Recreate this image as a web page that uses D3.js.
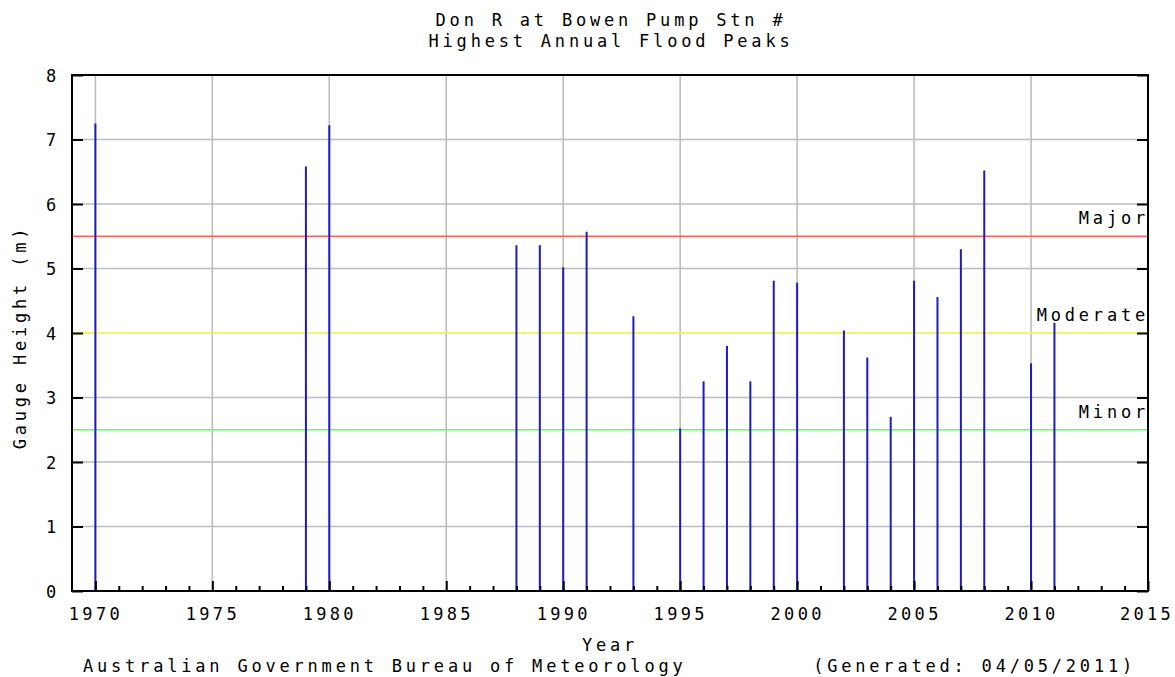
<!DOCTYPE html>
<html><head><meta charset="utf-8">
<script src="https://cdn.jsdelivr.net/npm/d3@7"></script>
<style>
body{margin:0;background:#fff;}
text{font-family:"DejaVu Sans Mono",monospace;font-size:17px;letter-spacing:3.8px;fill:#000;}
</style></head>
<body><svg id="c" width="1175" height="677"></svg>
<script>
const years = [1970,1979,1980,1988,1989,1990,1991,1993,1995,1996,1997,1998,1999,2000,2002,2003,2004,2005,2006,2007,2008,2010,2011];
const peaks = [7.25,6.58,7.22,5.36,5.36,5.02,5.57,4.26,2.52,3.25,3.80,3.25,4.81,4.78,4.04,3.62,2.70,4.81,4.56,5.30,6.52,3.53,4.16];
const levelNames = ["Major","Moderate","Minor"];
const levelValues = [5.5,4.0,2.5];
const levelColors = ["#ff6060","#ffff50","#60ff60"];
const xTickLabels = [1970,1975,1980,1985,1990,1995,2000,2005,2010,2015];
const yTickLabels = [0,1,2,3,4,5,6,7,8];
const titleLines = ["Don R at Bowen Pump Stn #","Highest Annual Flood Peaks"];

const svg = d3.select("#c");
const L=72,R=1148,T=75,B=591;
const x = d3.scaleLinear().domain([1969,2015]).range([L,R]);
const y = d3.scaleLinear().domain([0,8]).range([B,T]);

// grid
svg.append("g").selectAll("line").data(xTickLabels).join("line")
  .attr("x1",d=>x(d)).attr("x2",d=>x(d)).attr("y1",T).attr("y2",B)
  .attr("stroke","#bdbdbd").attr("stroke-width",1.6);
svg.append("g").selectAll("line").data(yTickLabels).join("line")
  .attr("x1",L).attr("x2",R).attr("y1",d=>y(d)).attr("y2",d=>y(d))
  .attr("stroke","#bdbdbd").attr("stroke-width",1.6);

// levels
svg.append("g").selectAll("line").data(levelValues).join("line")
  .attr("x1",L).attr("x2",R).attr("y1",d=>y(d)).attr("y2",d=>y(d))
  .attr("stroke",(d,i)=>levelColors[i]).attr("stroke-width",1.6);
svg.append("g").selectAll("text").data(levelValues).join("text")
  .attr("x",R+1).attr("y",d=>y(d)-12).attr("text-anchor","end")
  .text((d,i)=>levelNames[i]);

// bars
svg.append("g").selectAll("line").data(years).join("line")
  .attr("x1",d=>x(d)).attr("x2",d=>x(d)).attr("y1",y(0)).attr("y2",(d,i)=>y(peaks[i]))
  .attr("stroke","#1c1cc0").attr("stroke-width",2);

// frame
svg.append("rect").attr("x",L).attr("y",T).attr("width",R-L).attr("height",B-T)
  .attr("fill","none").attr("stroke","#000").attr("stroke-width",2);

// axes
const minorYears = d3.range(1970,2015).filter(v=>v%5!==0);
const gx = svg.append("g").attr("transform",`translate(0,${B})`);
gx.call(d3.axisBottom(x).tickValues(minorYears).tickSize(-5).tickFormat(""));
const gx2 = svg.append("g").attr("transform",`translate(0,${B})`);
gx2.call(d3.axisBottom(x).tickValues(xTickLabels).tickSize(-10).tickPadding(17).tickFormat(d3.format("d")));
const gyL = svg.append("g").attr("transform",`translate(${L},0)`);
gyL.call(d3.axisLeft(y).tickValues(yTickLabels).tickSize(-11).tickPadding(12).tickFormat(d3.format("d")));
const gyR = svg.append("g").attr("transform",`translate(${R},0)`);
gyR.call(d3.axisRight(y).tickValues(yTickLabels).tickSize(-11).tickFormat(""));
svg.selectAll(".domain").remove();
svg.selectAll(".tick line").attr("stroke","#000").attr("stroke-width",2);
svg.selectAll(".tick text").style("font-family","DejaVu Sans Mono,monospace").style("font-size","17px").attr("fill","#000");
gyL.selectAll(".tick text").attr("dy","0.36em");
gx2.selectAll(".tick text").style("letter-spacing","3.3px").attr("dx","0");
gx2.selectAll(".tick:last-of-type text").attr("dx","-1.5");

// titles
svg.append("g").selectAll("text").data(titleLines).join("text")
  .attr("x",611).attr("y",(d,i)=>26+i*21).attr("text-anchor","middle").text(d=>d);
svg.append("text").attr("x",610).attr("y",651).attr("text-anchor","middle").text("Year");
svg.append("text").attr("transform","translate(26,337) rotate(-90)").attr("text-anchor","middle").text("Gauge Height (m)");
svg.append("text").attr("x",83).attr("y",672).text("Australian Government Bureau of Meteorology");
svg.append("text").attr("x",1136).attr("y",672).attr("text-anchor","end").text("(Generated: 04/05/2011)");
</script></body></html>
